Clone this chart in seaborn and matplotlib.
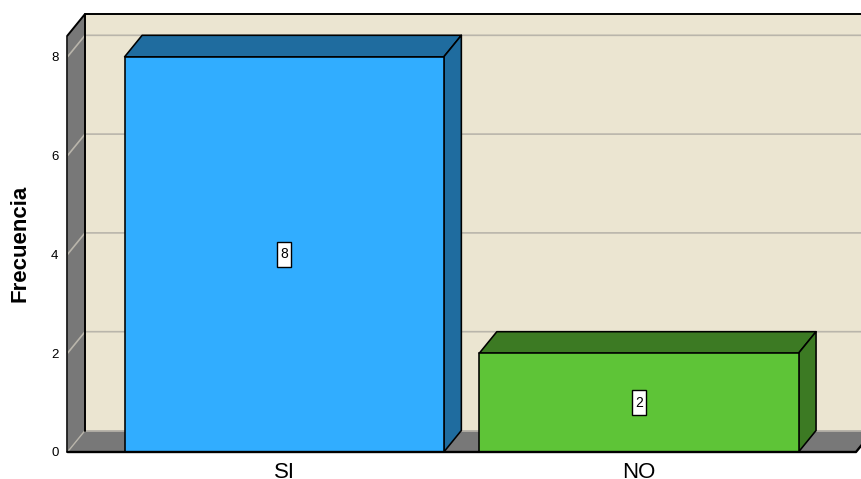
import matplotlib
matplotlib.use('Agg')
import matplotlib.pyplot as plt
import matplotlib.patches as mpatches
import pandas as pd
import seaborn as sns

categories = ['SI', 'NO']
frecuencia = [8, 2]
y_ticks = [0, 2, 4, 6, 8]

FRONT = ['#31ADFF', '#5EC437']
DARK = ['#1F6C9F', '#3C7A23']
WALL = '#EBE5D1'
SIDE = '#787878'
GRID = '#B9B5AB'

W, H = 861, 479
PX_X = 354.5      # px per category
PX_Y = 49.4       # px per unit of frecuencia
DX = 17.5 / PX_X  # depth of the 3d box in data units
DY = 21.5 / PX_Y

sns.set_theme(style='white')
plt.rcParams['font.family'] = ['Liberation Sans', 'DejaVu Sans']

fig = plt.figure(figsize=(W / 100, H / 100), dpi=100, facecolor='white')
ax = fig.add_axes([67.5 / W, (H - 452) / H, 788.5 / W, 416.5 / H])
ax.patch.set_alpha(0)

df = pd.DataFrame({'respuesta': categories, 'frecuencia': frecuencia})
sns.barplot(data=df, x='respuesta', y='frecuencia', hue='respuesta', palette=FRONT,
            saturation=1, width=0.9, edgecolor='black', linewidth=1.15, legend=False,
            ax=ax, zorder=5)

x0, x1 = -0.611, 1.612
y1 = 416.5 / PX_Y
ax.set_xlim(x0, x1)
ax.set_ylim(0, y1)


def poly(pts, fc, z, ec='black', lw=1.15):
    ax.add_patch(mpatches.Polygon(pts, closed=True, fc=fc, ec=ec, lw=lw, zorder=z,
                                  clip_on=False, joinstyle='round'))


# box: back wall, left wall, floor
top = y1 + DY
poly([(x0 + DX, DY), (x1 + DX, DY), (x1 + DX, top), (x0 + DX, top)], WALL, 1, ec='none', lw=0)
poly([(x0, 0), (x0 + DX, DY), (x0 + DX, top), (x0, y1)], SIDE, 1, ec='none', lw=0)
poly([(x0, 0), (x1, 0), (x1 + DX, DY), (x0 + DX, DY)], SIDE, 1, ec='none', lw=0)

# gridlines wrap from the left wall onto the back wall
for t in y_ticks[1:]:
    ax.plot([x0, x0 + DX, x1 + DX], [t, t + DY, t + DY], color=GRID, lw=1.2, zorder=2,
            clip_on=False)
ax.plot([x0, x0 + DX], [0, DY], color=GRID, lw=1, zorder=2, clip_on=False)
ax.plot([x0 + DX, x1 + DX], [DY, DY], color=GRID, lw=1.2, zorder=2, clip_on=False)

ax.plot([x0, x0 + DX, x1 + DX], [y1, top, top], color='black', lw=1.4, zorder=3, clip_on=False)
ax.plot([x0 + DX, x0 + DX], [top, DY], color='black', lw=1.4, zorder=3, clip_on=False)
ax.plot([x0, x0], [0, y1], color='black', lw=1.15, zorder=3, clip_on=False)
ax.plot([x0, x1, x1 + DX], [0, 0, DY], color='black', lw=1.7, zorder=8, clip_on=False)

# bar depth faces and value labels
for bar, val, dark in zip(ax.patches[:len(categories)], frecuencia, DARK):
    l, r, t = bar.get_x(), bar.get_x() + bar.get_width(), bar.get_height()
    poly([(l, t), (r, t), (r + DX, t + DY), (l + DX, t + DY)], dark, 4)
    poly([(r, 0), (r + DX, DY), (r + DX, t + DY), (r, t)], dark, 4)
    cx = l + bar.get_width() / 2
    bw, bh = 14 / PX_X, 24.5 / PX_Y
    ax.add_patch(mpatches.Rectangle((cx - bw / 2, t / 2 - bh / 2), bw, bh, fc='white',
                                    ec='black', lw=1, zorder=6))
    ax.text(cx, t / 2, str(val), ha='center', va='center', fontsize=10, color='black', zorder=7)

sns.despine(ax=ax, left=True, bottom=True, top=True, right=True)
ax.set_yticks(y_ticks)
ax.set_xticks(range(len(categories)))
ax.set_xticklabels(categories, fontsize=16, color='black')
ax.tick_params(axis='x', length=0, pad=7)
ax.tick_params(axis='y', length=0, pad=6.5, labelsize=9.5, labelcolor='black')
ax.set_xlabel('')
ax.set_ylabel('Frecuencia', fontsize=16, fontweight='bold', color='black')
ax.yaxis.set_label_coords((31 - 67.5) / 788.5, (452 - 243) / 416.5)

fig.savefig('out.png', dpi=100)
